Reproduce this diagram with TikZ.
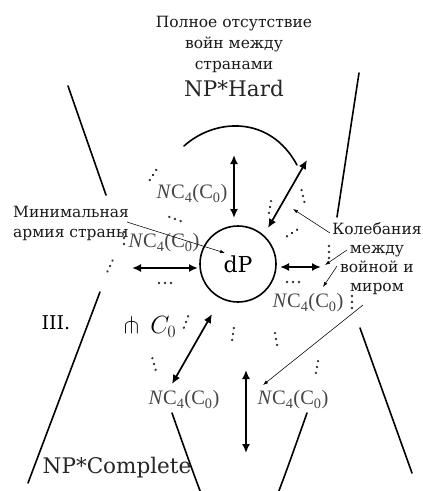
\documentclass[tikz,border=0pt]{standalone}
\usepackage{fontspec}
\usepackage{amssymb}
\setmainfont{DejaVu Serif}
\newfontfamily\ncfont{Liberation Serif}
\usetikzlibrary{arrows.meta}
\begin{document}
\begin{tikzpicture}[x=1pt,y=-1pt,
  bigarr/.style={{Latex[length=9pt,width=8pt]}-{Latex[length=9pt,width=8pt]}, line width=1.7pt},
  thinarr/.style={-{Latex[length=5pt,width=3.5pt]}, line width=0.55pt},
  edgeline/.style={line width=1.6pt, line cap=round},
  lab/.style={font=\fontsize{15.5}{20}\selectfont, text=black!90, align=center, inner sep=0pt},
  big/.style={font=\fontsize{21.5}{24}\selectfont, text=black!85, inner sep=0pt},
  nc/.style={font=\ncfont\fontsize{20.5}{22}\selectfont, text=black!72, inner sep=0pt},
  elli/.pic={\fill[black!80] (0,-6) circle[radius=1.3pt] (0,0) circle[radius=1.3pt] (0,6) circle[radius=1.3pt];}
]
\useasboundingbox (0,0) rectangle (423,491);
\clip (0,0) rectangle (423,491);

% side lines
\draw[edgeline] (68,86) -- (106,195);
\draw[edgeline] (359,73) -- (337,217);
\draw[edgeline] (100,292) -- (28,483);
\draw[edgeline] (360,328) -- (412,473);

% arcs
\draw[edgeline] (184,146) .. controls (215,118) and (270,115) .. (297,165);
\draw[edgeline] (172,413) .. controls (239.5,604) .. (307,413);

% texts
\node[lab, font=\fontsize{15.5}{21}\selectfont] (title) at (234,44) {Полное отсутствие\\войн между\\странами};
\node[big] (hard) at (234,88) {NP*Hard};
\node[lab, align=left, anchor=west] (army) at (13,223) {Минимальная\\армия страны};
\node[lab, font=\fontsize{15.5}{19}\selectfont] (osc) at (377,258.5) {Колебания\\между\\войной и\\миром};
\node[font=\fontsize{19}{22}\selectfont, inner sep=0pt] (iii) at (56,323) {III.};
\node[font=\fontsize{23}{26}\selectfont, inner sep=0pt] (pf) at (150,327) {$\pitchfork\,C_0$};
\node[big] (comp) at (117,468) {NP*Complete};

\node[circle, draw, line width=1.6pt, minimum size=76pt, inner sep=0pt, font=\fontsize{22}{24}\selectfont] (dP) at (238,264) {dP};

\node[nc] (n1) at (192,194) {\textit{N}C\textsubscript{4}(C\textsubscript{0})};
\node[nc] (n2) at (164,243) {\textit{N}C\textsubscript{4}(C\textsubscript{0})};
\node[nc] (n3) at (308,303) {\textit{N}C\textsubscript{4}(C\textsubscript{0})};
\node[nc] (n4) at (184,400) {\textit{N}C\textsubscript{4}(C\textsubscript{0})};
\node[nc] (n5) at (293,400) {\textit{N}C\textsubscript{4}(C\textsubscript{0})};

% big arrows
\coordinate (a1s) at (234,155); \coordinate (a1e) at (234,218);
\coordinate (a2s) at (307,160); \coordinate (a2e) at (268,228);
\coordinate (a3s) at (132,268); \coordinate (a3e) at (198,268);
\coordinate (a4s) at (280,267); \coordinate (a4e) at (321,267);
\coordinate (a5s) at (212,314); \coordinate (a5e) at (172,384);
\coordinate (a6s) at (246,370); \coordinate (a6e) at (246,453);
\draw[bigarr] (a1s) -- (a1e);
\draw[bigarr] (a2s) -- (a2e);
\draw[bigarr] (a3s) -- (a3e);
\draw[bigarr] (a4s) -- (a4e);
\draw[bigarr] (a5s) -- (a5e);
\draw[bigarr] (a6s) -- (a6e);

% thin arrows
\coordinate (t0s) at (127,222); \coordinate (t0e) at (225,253);
\coordinate (t1s) at (330,233); \coordinate (t1e) at (293,209);
\coordinate (t2s) at (347,250); \coordinate (t2e) at (325,265);
\coordinate (t3s) at (337,266); \coordinate (t3e) at (323,287);
\coordinate (t4s) at (363,305); \coordinate (t4e) at (263,385);
\draw[thinarr] (t0s) -- (t0e);
\draw[thinarr] (t1s) -- (t1e);
\draw[thinarr] (t2s) -- (t2e);
\draw[thinarr] (t3s) -- (t3e);
\draw[thinarr] (t4s) -- (t4e);

% ellipses
\pic[rotate=-33] at (153,175) {elli};
\pic[rotate=70] at (175,219) {elli};
\pic at (124,238) {elli};
\pic[rotate=-25] at (110,266) {elli};
\pic[rotate=90] at (165,283) {elli};
\pic[rotate=-10] at (270,207) {elli};
\pic[rotate=13] at (303,196) {elli};
\pic[rotate=-57] at (292,233) {elli};
\pic at (329,252) {elli};
\pic[rotate=90] at (293,282) {elli};
\pic at (352,302) {elli};
\pic[rotate=-20] at (186,322) {elli};
\pic[rotate=-8] at (233,334) {elli};
\pic[rotate=10] at (276,339) {elli};
\pic[rotate=15] at (154,364) {elli};
\pic[rotate=-10] at (317,367) {elli};
\end{tikzpicture}
\end{document}
